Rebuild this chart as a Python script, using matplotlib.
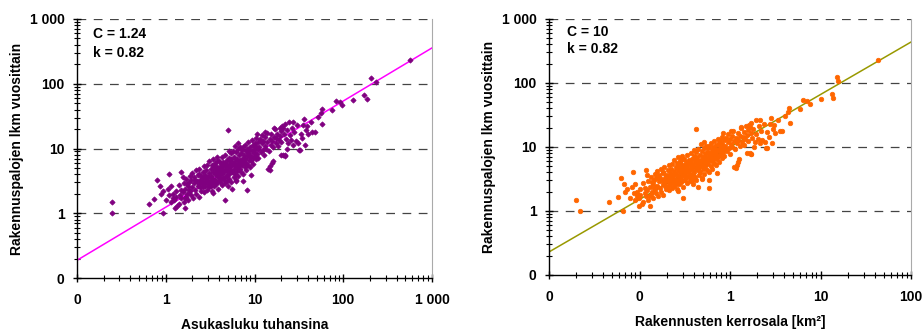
import matplotlib
matplotlib.use("Agg")
import matplotlib.pyplot as plt
import numpy as np

plt.rcParams['font.family'] = ['Liberation Sans', 'DejaVu Sans']
plt.rcParams['font.weight'] = 'bold'

# ---------------- data ----------------
pop_k = [
    0.25, 0.25, 0.65, 0.74, 0.80, 0.86, 0.92, 0.93, 0.88, 1.0, 1.09, 1.27, 1.5, 1.64, 3.43, 4.67, 5.06, 8.2, 6.2, 7.45,
    9.25, 14.9, 15.8, 19.8, 21.9, 32.4, 56, 57, 58, 52, 75, 82, 91, 97, 129, 173, 187, 204, 236, 561,
    1.05, 1.1, 1.15, 1.2, 1.25, 1.3, 1.35, 1.4, 1.45, 1.5, 1.15, 1.3, 1.4, 1.48, 1.2,
    1.55, 1.6, 1.6, 1.65, 1.7, 1.7, 1.75, 1.8, 1.8, 1.85, 1.9, 1.9, 1.95, 2.0, 2.0, 1.55, 1.75, 1.65, 1.85, 1.95,
    2.05, 2.1, 2.1, 2.15, 2.2, 2.2, 2.25, 2.3, 2.3, 2.35, 2.4, 2.4, 2.45, 2.5, 2.5, 2.55, 2.6, 2.6, 2.65, 2.7,
    2.7, 2.75, 2.8, 2.8, 2.85, 2.9, 2.9, 2.95, 3.0, 3.0, 2.15, 2.45, 2.65, 2.85, 2.35,
    3.05, 3.1, 3.1, 3.15, 3.2, 3.2, 3.25, 3.3, 3.3, 3.35, 3.4, 3.4, 3.45, 3.5, 3.5, 3.55, 3.6, 3.6, 3.65, 3.7,
    3.7, 3.75, 3.8, 3.8, 3.85, 3.9, 3.9, 3.95, 4.0, 4.0, 4.05, 4.1, 4.1, 4.2, 4.2, 4.25, 4.3, 4.3, 4.35, 4.4,
    4.4, 4.45, 3.25, 3.55, 3.75, 4.15,
    4.5, 4.55, 4.6, 4.6, 4.7, 4.7, 4.75, 4.8, 4.85, 4.9, 4.9, 5.0, 5.0, 5.1, 5.1, 5.2, 5.2, 5.3, 5.3, 5.4,
    5.4, 5.5, 5.5, 5.6, 5.6, 5.7, 5.7, 5.8, 5.8, 5.9, 6.0, 6.0, 6.1, 6.2, 6.2, 6.3, 6.4, 6.4, 6.5, 6.5,
    6.6, 6.7, 6.7, 6.8, 6.9, 6.9, 7.0, 5.15, 6.05, 6.6, 4.95,
    7.1, 7.1, 7.2, 7.3, 7.3, 7.4, 7.5, 7.5, 7.6, 7.7, 7.8, 7.8, 7.9, 8.0, 8.0, 8.1, 8.2, 8.3, 8.4, 8.5,
    8.5, 8.6, 8.7, 8.8, 8.9, 9.0, 9.0, 9.2, 9.3, 9.4, 9.5, 9.6, 9.7, 9.8, 9.9, 10.0, 10.0, 10.2, 10.3, 10.4,
    10.5, 10.6, 10.8, 10.9, 11.0, 11.0,
    11.3, 11.5, 11.7, 12.0, 12.2, 12.4, 12.6, 12.8, 13.0, 13.3, 13.5, 13.8, 14.0, 14.3, 14.5, 14.8, 15.0, 15.2, 15.5, 15.8,
    16.0, 16.3, 16.6, 17.0, 17.3, 17.6, 18.0, 18.4, 18.8, 19.2, 19.6, 20.0, 20.0, 16.8, 13.0,
    20.5, 21.0, 21.5, 22.0, 22.0, 22.5, 23.0, 24.0, 24.5, 25.0, 26.0, 26.5, 27.0, 28.0, 29.0, 30.0, 31.0, 32.0, 33.0, 34.0,
    35.0, 36.0, 37.0, 38.0, 40.0, 43.0, 45.0, 48.0, 21.0, 23.5, 27.5, 39.0,
]

area_km2 = [
    0.0199, 0.022, 0.0465, 0.058, 0.0627, 0.0674, 0.0658, 0.0729, 0.069, 0.0784, 0.0855, 0.0996, 0.118, 0.129, 0.269, 0.303, 0.419, 0.589, 0.486, 0.584,
    0.725, 1.17, 1.24, 1.55, 1.72, 2.54, 4.39, 4.47, 4.55, 4.08, 5.88, 6.43, 7.13, 7.6, 10.1, 13.5, 13.7, 15.2, 15.6, 43.5,
    0.0823, 0.0862, 0.0902, 0.0941, 0.098, 0.102, 0.106, 0.11, 0.114, 0.118, 0.0902, 0.102, 0.11, 0.116, 0.0941,
    0.122, 0.125, 0.125, 0.129, 0.133, 0.133, 0.137, 0.141, 0.141, 0.145, 0.149, 0.149, 0.153, 0.157, 0.157, 0.122, 0.137, 0.129, 0.145, 0.153,
    0.161, 0.165, 0.165, 0.169, 0.172, 0.172, 0.176, 0.18, 0.18, 0.184, 0.188, 0.188, 0.192, 0.196, 0.196, 0.2, 0.204, 0.204, 0.208, 0.212,
    0.212, 0.216, 0.22, 0.22, 0.223, 0.227, 0.227, 0.231, 0.235, 0.235, 0.169, 0.192, 0.208, 0.223, 0.184,
    0.239, 0.243, 0.243, 0.247, 0.251, 0.251, 0.255, 0.259, 0.259, 0.263, 0.267, 0.267, 0.27, 0.274, 0.274, 0.278, 0.282, 0.282, 0.286, 0.29,
    0.29, 0.294, 0.298, 0.298, 0.302, 0.306, 0.306, 0.31, 0.314, 0.314, 0.318, 0.321, 0.321, 0.329, 0.329, 0.333, 0.337, 0.337, 0.341, 0.345,
    0.345, 0.349, 0.255, 0.278, 0.294, 0.325,
    0.353, 0.357, 0.361, 0.361, 0.368, 0.368, 0.372, 0.376, 0.38, 0.384, 0.384, 0.392, 0.392, 0.4, 0.4, 0.408, 0.408, 0.416, 0.416, 0.423,
    0.423, 0.431, 0.431, 0.439, 0.439, 0.447, 0.447, 0.455, 0.455, 0.463, 0.47, 0.47, 0.478, 0.486, 0.486, 0.494, 0.502, 0.502, 0.51, 0.51,
    0.517, 0.525, 0.525, 0.533, 0.541, 0.541, 0.549, 0.404, 0.474, 0.517, 0.388,
    0.557, 0.557, 0.564, 0.572, 0.572, 0.58, 0.588, 0.588, 0.596, 0.604, 0.612, 0.612, 0.619, 0.627, 0.627, 0.635, 0.643, 0.651, 0.659, 0.666,
    0.666, 0.674, 0.682, 0.69, 0.698, 0.706, 0.706, 0.721, 0.729, 0.737, 0.745, 0.753, 0.76, 0.768, 0.776, 0.784, 0.784, 0.8, 0.808, 0.815,
    0.823, 0.831, 0.847, 0.855, 0.862, 0.862,
    0.886, 0.902, 0.917, 0.941, 0.956, 0.972, 0.988, 1.0, 1.02, 1.04, 1.06, 1.08, 1.1, 1.12, 1.14, 1.16, 1.18, 1.19, 1.22, 1.24,
    1.25, 1.28, 1.3, 1.33, 1.36, 1.38, 1.41, 1.44, 1.47, 1.51, 1.54, 1.57, 1.57, 1.32, 1.02,
    1.61, 1.65, 1.69, 1.72, 1.72, 1.76, 1.8, 1.88, 1.92, 1.96, 2.04, 2.08, 2.12, 2.2, 2.27, 2.35, 2.43, 2.51, 2.59, 2.67,
    2.74, 2.82, 2.9, 2.98, 3.14, 3.37, 3.53, 3.76, 1.65, 1.84, 2.16, 3.06,
]

fires = [
    1.5, 1.0, 1.4, 1.67, 3.25, 2.65, 1.0, 2.2, 2.0, 1.6, 4.0, 1.2, 4.4, 1.2, 2.05, 1.58, 19.0, 2.3, 3.3, 3.1,
    3.9, 4.7, 5.9, 8.0, 7.7, 9.5, 35, 41, 24, 31, 39.5, 54, 53, 46.5, 57, 67, 59, 124, 108, 230,
    2.4, 1.9, 1.5, 2.0, 1.6, 2.2, 1.3, 2.7, 1.9, 1.7, 2.6, 1.8, 1.4, 2.3, 1.7,
    2.1, 1.5, 2.9, 2.4, 1.8, 3.4, 2.0, 2.6, 1.6, 3.0, 2.2, 3.8, 1.9, 2.5, 4.2, 3.6, 2.8, 1.7, 2.3, 3.3,
    1.7, 2.9, 3.6, 2.3, 4.6, 2.0, 3.1, 2.6, 3.9, 1.8, 2.8, 4.9, 3.3, 2.2, 3.7, 2.9, 4.3, 2.5, 3.5, 2.1,
    5.3, 3.0, 3.9, 2.6, 4.6, 3.3, 2.3, 5.5, 3.6, 2.8, 3.3, 2.5, 3.0, 3.5, 4.1,
    4.2, 2.5, 6.3, 3.2, 4.8, 2.9, 3.8, 5.6, 2.2, 3.5, 4.4, 7.0, 3.0, 5.1, 2.6, 4.0, 3.3, 6.0, 4.6, 2.8,
    5.4, 3.7, 4.2, 7.3, 3.1, 5.0, 2.4, 4.5, 3.6, 6.5, 5.2, 3.0, 4.1, 5.8, 3.4, 4.7, 7.5, 2.7, 4.0, 5.4,
    3.5, 6.2, 2.6, 3.1, 6.5, 4.4,
    4.3, 3.3, 5.9, 2.9, 4.9, 8.0, 3.8, 5.5, 3.1, 6.6, 4.5, 5.1, 2.6, 7.2, 4.0, 5.8, 3.4, 6.4, 4.7, 8.4,
    3.0, 5.3, 6.9, 4.3, 2.4, 6.0, 9.2, 4.9, 3.6, 7.5, 5.6, 4.1, 6.3, 8.8, 3.2, 5.2, 7.0, 4.5, 9.8, 6.0,
    3.8, 7.8, 5.4, 4.8, 6.7, 10.5, 5.9, 9.0, 11.0, 12.0, 3.7,
    8.5, 4.4, 6.5, 9.5, 5.5, 7.2, 4.1, 10.5, 6.2, 8.0, 5.1, 11.5, 7.0, 9.0, 6.0, 4.6, 7.7, 10.0, 5.6, 8.4,
    12.5, 6.7, 9.4, 7.3, 5.2, 10.6, 8.0, 6.4, 13.5, 9.0, 7.2, 11.5, 5.8, 8.6, 10.0, 12.2, 7.6, 9.4, 14.5, 6.8,
    11.0, 8.3, 16.5, 9.8, 12.8, 7.2,
    10.5, 14.0, 8.8, 12.0, 16.0, 9.5, 13.2, 7.8, 11.0, 15.0, 10.0, 17.5, 12.5, 4.8, 9.2, 14.0, 5.3, 11.5, 16.5, 13.0,
    6.5, 10.5, 15.0, 20.0, 12.0, 14.5, 17.0, 10.8, 13.5, 21.0, 15.5, 12.5, 18.5, 20.5, 18.0,
    22.0, 8.0, 16.5, 24.0, 7.8, 14.0, 19.0, 12.0, 26.0, 16.0, 13.5, 21.0, 11.5, 18.0, 13.0, 23.0, 12.0, 9.6, 17.0, 14.5,
    23.0, 28.5, 11.4, 19.0, 16.5, 26.0, 17.7, 17.7, 20.5, 10.0, 26.0, 22.0,
]

fit_C = [1.24, 10]
fit_k = [0.82, 0.82]

y_ticks = [0.1, 1, 10, 100, 1000]
y_ticklabels = ["0", "1", "10", "100", "1 000"]
left_x_ticks = [0.1, 1, 10, 100, 1000]
left_x_ticklabels = ["0", "1", "10", "100", "1 000"]
right_x_ticks = [0.01, 0.1, 1, 10, 100]
right_x_ticklabels = ["0", "0", "1", "10", "100"]

ylabel = "Rakennuspalojen lkm vuosittain"
left_xlabel = "Asukasluku tuhansina"
right_xlabel = "Rakennusten kerrosala [km²]"

# ---------------- figure ----------------
fig = plt.figure(figsize=(9.24, 3.32), dpi=100)
axL = fig.add_axes([77/924, 1-278/332, 355/924, 259/332])
axR = fig.add_axes([549/924, 1-275/332, 362/924, 256/332])


def style(ax, xticks, xlabels, xlabel):
    ax.set_xscale('log')
    ax.set_yscale('log')
    ax.set_xlim(xticks[0], xticks[-1])
    ax.set_ylim(y_ticks[0], y_ticks[-1])
    ax.set_xticks(xticks)
    ax.set_xticklabels(xlabels)
    ax.set_yticks(y_ticks)
    ax.set_yticklabels(y_ticklabels)
    for yv in y_ticks[1:]:
        ax.axhline(yv, color='#444444', lw=0.9, ls=(0, (7, 6)), zorder=1)
    ax.spines['top'].set_visible(False)
    ax.spines['right'].set_color('#aaaaaa')
    ax.spines['left'].set_linewidth(1.0)
    ax.spines['bottom'].set_linewidth(1.0)
    ax.tick_params(which='major', direction='inout', length=6, width=1,
                   labelsize=10, pad=6)
    ax.tick_params(which='minor', direction='inout', length=4, width=0.8)
    ax.tick_params(axis='x', which='major', pad=8)
    for lab in ax.get_xticklabels() + ax.get_yticklabels():
        lab.set_fontweight('bold')
    ax.set_xlabel(xlabel, fontsize=10, fontweight='bold', labelpad=8)
    ax.set_ylabel(ylabel, fontsize=10, fontweight='bold', labelpad=4)


# Left panel
style(axL, left_x_ticks, left_x_ticklabels, left_xlabel)
xf = np.array([left_x_ticks[0], left_x_ticks[-1]])
axL.plot(xf, fit_C[0] * xf ** fit_k[0], color='#FF00FF', lw=1.1, zorder=2)
axL.plot(pop_k, fires, ls='none', marker='D', ms=2.7, color='#800080',
         mec='#800080', mew=0.5, zorder=3, clip_on=False)
axL.text(0.045, 0.968, f"C = {fit_C[0]}\nk = {fit_k[0]}", transform=axL.transAxes,
         fontsize=10, fontweight='bold', va='top', ha='left', linespacing=1.45)

# Right panel
style(axR, right_x_ticks, right_x_ticklabels, right_xlabel)
xf = np.array([right_x_ticks[0], right_x_ticks[-1]])
axR.plot(xf, fit_C[1] * xf ** fit_k[1], color='#999900', lw=1.1, zorder=2)
axR.plot(area_km2, fires, ls='none', marker='o', ms=3.3, color='#FF6600',
         mec='#FF6600', mew=0.5, zorder=3, clip_on=False)
axR.text(0.05, 0.978, f"C = {fit_C[1]}\nk = {fit_k[1]}", transform=axR.transAxes,
         fontsize=10, fontweight='bold', va='top', ha='left', linespacing=1.3)

fig.savefig("out.png", dpi=100)
